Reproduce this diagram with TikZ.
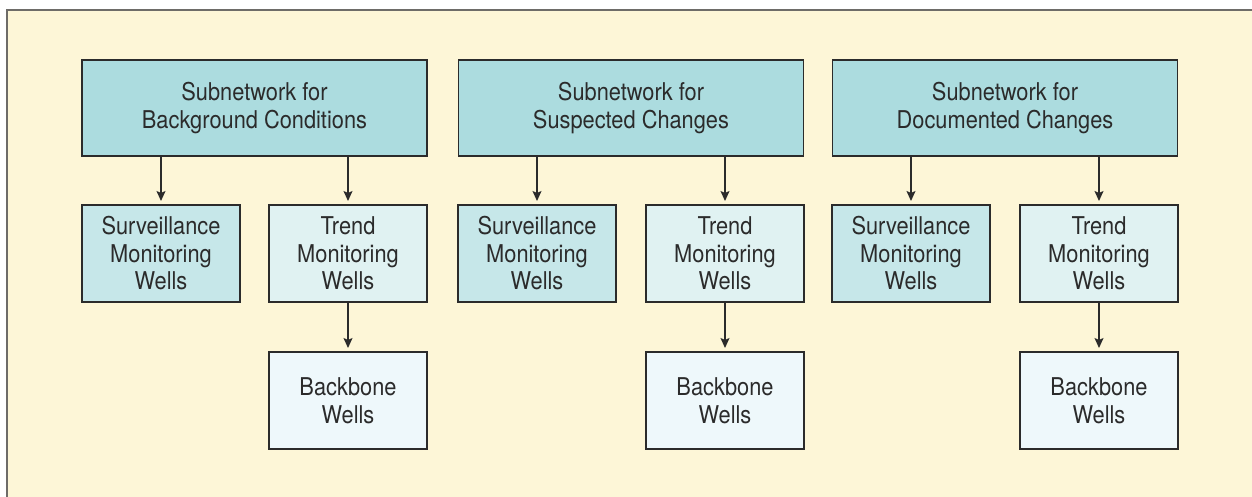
\documentclass[tikz,border=0pt]{standalone}
\usepackage{fontspec}
\setmainfont{TeX Gyre Heros}[FakeStretch=0.89]
\usetikzlibrary{arrows.meta}

\definecolor{panelbg}{HTML}{FDF6D7}
\definecolor{panelrule}{HTML}{6E6C68}
\definecolor{subnetfill}{HTML}{ACDCDF}
\definecolor{survfill}{HTML}{C6E7E9}
\definecolor{trendfill}{HTML}{E0F2F2}
\definecolor{backfill}{HTML}{EEF8FB}
\definecolor{ink}{HTML}{2B2B2B}

\tikzset{
  wellbox/.style={draw=ink, line width=1.2pt, inner sep=0pt, outer sep=0pt,
    align=center, text=ink, font=\fontsize{24.5}{27.5}\selectfont},
  subnet/.style={wellbox, fill=subnetfill, minimum width=345pt, minimum height=96pt},
  surv/.style={wellbox, fill=survfill, minimum width=158pt, minimum height=97pt},
  trend/.style={wellbox, fill=trendfill, minimum width=158pt, minimum height=97pt},
  backbone/.style={wellbox, fill=backfill, minimum width=158pt, minimum height=97pt},
  link/.style={draw=ink, line width=1.3pt, shorten >=4pt,
    -{Stealth[length=10pt,width=9pt,inset=2pt]}}
}

\begin{document}
\begin{tikzpicture}[x=1pt, y=-1pt]
  \useasboundingbox (0,0) rectangle (1252,497);
  \begin{scope}
    \clip (0,0) rectangle (1252,497);
    \draw[panelrule, fill=panelbg, line width=2.2pt] (7,10) rectangle (1270,520);
  \end{scope}

  % top-level subnetworks
  \node[subnet] (sn1) at (254.5,108) {Subnetwork for\\Background Conditions};
  \node[subnet] (sn2) at (631,108)   {Subnetwork for\\Suspected Changes};
  \node[subnet] (sn3) at (1005,108)  {Subnetwork for\\Documented Changes};

  % surveillance monitoring wells
  \node[surv] (sv1) at (161,253.5) {Surveillance\\Monitoring\\Wells};
  \node[surv] (sv2) at (537,253.5) {Surveillance\\Monitoring\\Wells};
  \node[surv] (sv3) at (911,253.5) {Surveillance\\Monitoring\\Wells};

  % trend monitoring wells
  \node[trend] (tr1) at (348,253.5)  {Trend\\Monitoring\\Wells};
  \node[trend] (tr2) at (725,253.5)  {Trend\\Monitoring\\Wells};
  \node[trend] (tr3) at (1099,253.5) {Trend\\Monitoring\\Wells};

  % backbone wells
  \node[backbone] (bb1) at (348,400.5)  {Backbone\\Wells};
  \node[backbone] (bb2) at (725,400.5)  {Backbone\\Wells};
  \node[backbone] (bb3) at (1099,400.5) {Backbone\\Wells};

  \foreach \i in {1,2,3} {
    \draw[link] (sn\i.south -| sv\i.north) -- (sv\i.north);
    \draw[link] (sn\i.south -| tr\i.north) -- (tr\i.north);
    \draw[link] (tr\i.south) -- (bb\i.north);
  }
\end{tikzpicture}
\end{document}
